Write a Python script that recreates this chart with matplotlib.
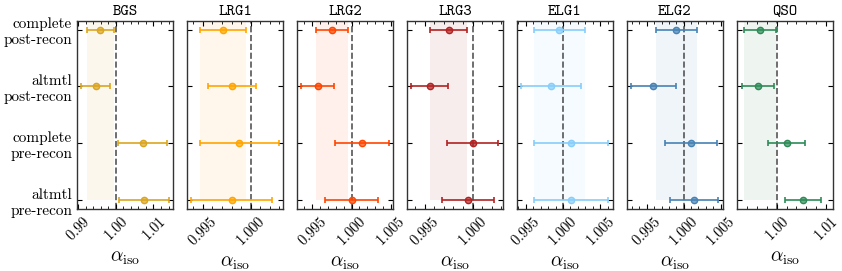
import numpy as np
import matplotlib
matplotlib.use("Agg")
import matplotlib.pyplot as plt
from matplotlib.ticker import AutoMinorLocator, MultipleLocator

plt.rcParams['font.family'] = ['cmr10', 'DejaVu Serif']
plt.rcParams['mathtext.fontset'] = 'cm'
plt.rcParams['axes.unicode_minus'] = False
plt.rcParams['axes.formatter.use_mathtext'] = True

tracers = ['BGS', 'LRG1', 'LRG2', 'LRG3', 'ELG1', 'ELG2', 'QSO']
row_labels = ['complete\npost-recon', 'altmtl\npost-recon',
              'complete\npre-recon', 'altmtl\npre-recon']
colors = ['goldenrod', 'orange', 'orangered', 'firebrick',
          'lightskyblue', 'steelblue', 'seagreen']

alpha_BGS = [0.9959, 0.9947, 1.0071, 1.0074]
err_BGS = [0.0036, 0.0038, 0.0065, 0.0066]
alpha_LRG1 = [0.9971, 0.9980, 0.9988, 0.9980]
err_LRG1 = [0.0024, 0.0025, 0.0041, 0.0042]
alpha_LRG2 = [0.9975, 0.9957, 1.0013, 1.0000]
err_LRG2 = [0.0020, 0.0021, 0.0034, 0.0034]
alpha_LRG3 = [0.9975, 0.9955, 1.0000, 0.9995]
err_LRG3 = [0.0019, 0.0019, 0.0027, 0.0027]
alpha_ELG1 = [0.9995, 0.9984, 1.0011, 1.0011]
err_ELG1 = [0.0034, 0.0040, 0.0050, 0.0050]
alpha_ELG2 = [0.9990, 0.9959, 1.0010, 1.0014]
err_ELG2 = [0.0028, 0.0030, 0.0035, 0.0033]
alpha_QSO = [0.9966, 0.9962, 1.0020, 1.0053]
err_QSO = [0.0033, 0.0033, 0.0038, 0.0037]

alphas = [alpha_BGS, alpha_LRG1, alpha_LRG2, alpha_LRG3, alpha_ELG1, alpha_ELG2, alpha_QSO]
errs = [err_BGS, err_LRG1, err_LRG2, err_LRG3, err_ELG1, err_ELG2, err_QSO]
major_steps = [0.01, 0.005, 0.005, 0.005, 0.005, 0.005, 0.01]
qso_xlim = (0.9919, 1.0114)

fig, axes = plt.subplots(1, 7, figsize=(8.42, 2.71), dpi=100, sharey=True)
fig.subplots_adjust(left=0.0915, right=0.989, top=0.9225, bottom=0.229, wspace=0.147)

ypos = np.arange(len(row_labels))
for i, ax in enumerate(axes):
    a = np.array(alphas[i]); e = np.array(errs[i]); c = colors[i]
    ax.fill_betweenx([-0.5, ypos[-1]], a[0] - e[0], a[0] + e[0],
                     color=c, alpha=0.08, lw=0, zorder=0)
    ax.axvline(1.0, color='#555555', ls='--', lw=1.2, zorder=1)
    ax.errorbar(a, ypos, xerr=e, fmt='o', color=c, ms=4.5, mfc=matplotlib.colors.to_rgba(c, 0.7),
                mec=c, capsize=2.5, elinewidth=1.2, capthick=1.2, zorder=3)
    ax.set_ylim(3.15, -0.15)
    if tracers[i] == 'QSO':
        ax.set_xlim(*qso_xlim)
    ax.xaxis.set_major_locator(MultipleLocator(major_steps[i]))
    ax.xaxis.set_minor_locator(AutoMinorLocator())
    ax.set_yticks(ypos)
    ax.tick_params(axis='both', which='both', direction='in', top=True, right=True)
    ax.tick_params(axis='both', which='major', length=3.5, width=0.8)
    ax.tick_params(axis='x', which='minor', length=2, width=0.6)
    ax.tick_params(axis='y', which='minor', left=False, right=False)
    ax.tick_params(axis='x', labelsize=10.5, labelrotation=45)
    ax.tick_params(axis='y', labelsize=11)
    for lab in ax.get_xticklabels():
        lab.set_ha('center')
    for sp in ax.spines.values():
        sp.set_color('#333333')
        sp.set_linewidth(1.0)
    ax.set_title(tracers[i], family='cmtt10', fontsize=11.5, pad=4)
    ax.set_xlabel(r'$\alpha_{\rm iso}$', fontsize=14)
axes[0].set_yticklabels(row_labels)

fig.savefig('out.png', dpi=100)
